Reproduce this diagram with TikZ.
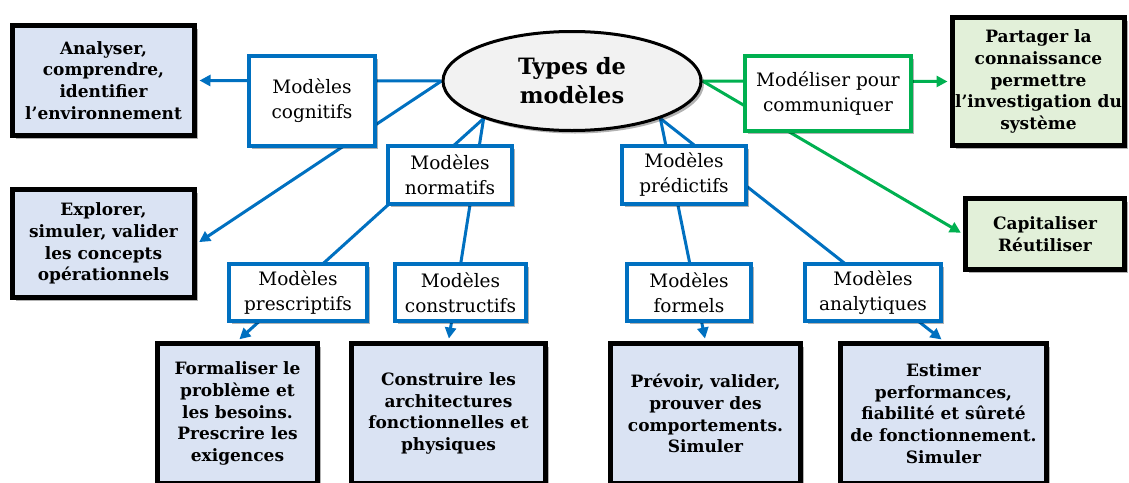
\documentclass[tikz,border=0pt]{standalone}
\usepackage{fontspec}
\setmainfont{DejaVu Serif}
\usetikzlibrary{shapes.geometric,arrows.meta,shadows,backgrounds}
\definecolor{myblue}{RGB}{0,112,192}
\definecolor{mygreen}{RGB}{0,176,80}
\definecolor{lblue}{RGB}{218,227,243}
\definecolor{lgreen}{RGB}{226,240,217}
\definecolor{ellgray}{RGB}{242,242,242}
\begin{document}
\begin{tikzpicture}[x=1pt,y=-1pt,
  shd/.style={drop shadow={shadow xshift=3pt,shadow yshift=-3pt,opacity=0.3,fill=black}},
  termbox/.style={draw=black,line width=5pt,fill=lblue,align=center,inner sep=2pt,
    font=\bfseries\fontsize{17}{21.7}\selectfont,shd},
  greenterm/.style={termbox,fill=lgreen},
  midbox/.style={draw=myblue,line width=4pt,fill=white,align=center,inner sep=2pt,
    font=\fontsize{18.5}{25}\selectfont,shd},
  greenmid/.style={midbox,draw=mygreen},
  link/.style={myblue,line width=3pt},
  arr/.style={link,-{Triangle[length=11pt,width=11pt]},shorten >=2.5pt},
  garr/.style={arr,mygreen}]
\clip (0,0) rectangle (1129,482);
% central ellipse
\node[draw=black,line width=3pt,fill=ellgray,ellipse,minimum width=258pt,minimum height=99pt,
  inner sep=0pt,align=center,font=\bfseries\fontsize{22.5}{29}\selectfont,shd] (ell) at (572,81) {Types de\\modèles};
% left terminal boxes
\node[termbox,minimum width=182pt,minimum height=110pt] (ana) at (103.5,80.5) {Analyser,\\comprendre,\\identifier\\l’environnement};
\node[termbox,minimum width=182pt,minimum height=108pt] (exp) at (103.5,243.5) {Explorer,\\simuler, valider\\les concepts\\opérationnels};
% intermediate model boxes
\node[midbox,minimum width=126pt,minimum height=90pt] (cog) at (312,101) {Modèles\\cognitifs};
\node[midbox,minimum width=124pt,minimum height=58pt] (nor) at (450,175) {Modèles\\normatifs};
\node[midbox,minimum width=138pt,minimum height=57pt] (pre) at (298,292.5) {Modèles\\prescriptifs};
\node[midbox,minimum width=131pt,minimum height=57pt] (con) at (460.5,292.5) {Modèles\\constructifs};
\node[midbox,minimum width=124pt,minimum height=58pt] (pred) at (684,175) {Modèles\\prédictifs};
\node[midbox,minimum width=124pt,minimum height=57pt] (for) at (689,292.5) {Modèles\\formels};
\node[midbox,minimum width=136pt,minimum height=57pt] (anl) at (873,292.5) {Modèles\\analytiques};
\node[greenmid,minimum width=166pt,minimum height=75pt] (mod) at (828,93.5) {Modéliser pour\\communiquer};
% right terminal boxes
\node[greenterm,minimum width=172pt,minimum height=128pt] (par) at (1038.5,81.5) {Partager la\\connaissance\\permettre\\l’investigation du\\système};
\node[greenterm,minimum width=159pt,minimum height=71pt] (cap) at (1045,234) {Capitaliser\\Réutiliser};
% bottom terminal boxes
\node[termbox,minimum width=160pt,minimum height=140pt] (form) at (237.5,413.5) {Formaliser le\\problème et\\les besoins.\\Prescrire les\\exigences};
\node[termbox,minimum width=194pt,minimum height=140pt] (cons) at (448.5,413.5) {Construire les\\architectures\\fonctionnelles et\\physiques};
\node[termbox,minimum width=190pt,minimum height=140pt] (prev) at (705.5,413.5) {Prévoir, valider,\\prouver des\\comportements.\\Simuler};
\node[termbox,minimum width=206pt,minimum height=140pt] (est) at (943.5,413.5) {Estimer\\performances,\\fiabilité et sûreté\\de fonctionnement.\\Simuler};
% connectors
\begin{scope}[on background layer]
\draw[arr] (ell.west) -- (ana.east);
\draw[arr] (ell.west) -- (exp.east);
\draw[arr] (ell.203) -- (form.north);
\draw[arr] (ell.203) -- (cons.north);
\draw[arr] (ell.337) -- (prev.north);
\draw[arr] (ell.337) -- (est.north);
\draw[garr] (ell.east) -- (par.west);
\draw[garr] (ell.east) -- (cap.west);
\end{scope}
\end{tikzpicture}
\end{document}
